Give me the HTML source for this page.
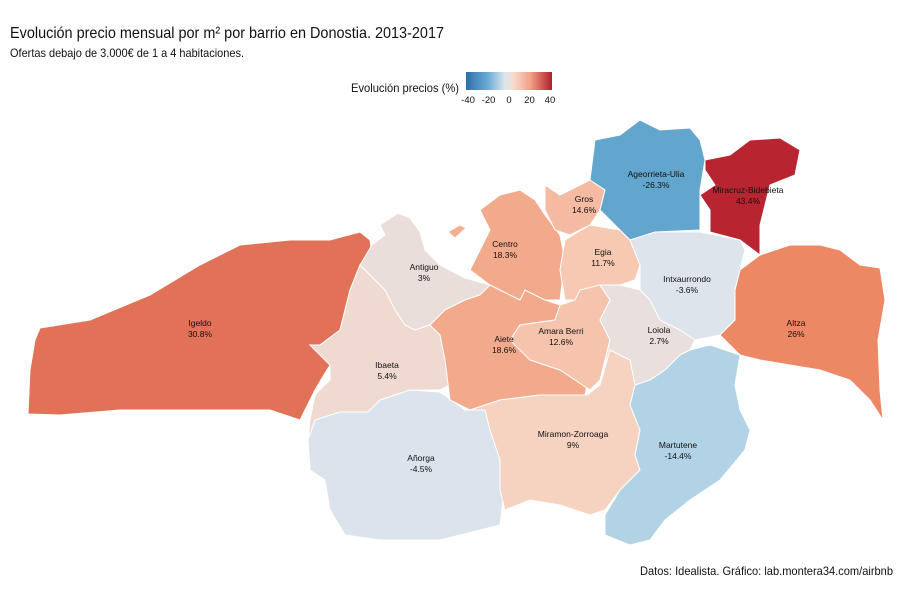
<!DOCTYPE html>
<html><head><meta charset="utf-8"><style>
body{margin:0;background:#fff;font-family:"Liberation Sans Narrow","Liberation Sans",sans-serif;}
svg text{font-family:"Liberation Sans Narrow","Liberation Sans",sans-serif;}
</style></head><body>
<svg id="map" width="900" height="600" viewBox="0 0 900 600">
<defs><linearGradient id="lg" x1="0" x2="1">
<stop offset="0" stop-color="#2c6fb0"/><stop offset="0.25" stop-color="#6aa9d1"/><stop offset="0.45" stop-color="#d9e6ef"/><stop offset="0.55" stop-color="#f7dccd"/><stop offset="0.75" stop-color="#f1a083"/><stop offset="1" stop-color="#b2202c"/></linearGradient></defs>
<text x="10" y="38" font-size="16" fill="#111" textLength="434" lengthAdjust="spacingAndGlyphs">Evolución precio mensual por m² por barrio en Donostia. 2013-2017</text>
<text x="10" y="57" font-size="12" fill="#111" textLength="234" lengthAdjust="spacingAndGlyphs">Ofertas debajo de 3.000€ de 1 a 4 habitaciones.</text>
<g>
<text x="351" y="92" font-size="12" fill="#111" textLength="108" lengthAdjust="spacingAndGlyphs">Evolución precios (%)</text>
<rect x="466" y="72" width="86" height="18" fill="url(#lg)"/>
<g id="legticks"></g>
</g>
<polygon points="448,232 460,225 466,228 455,238" fill="#f4ae91" stroke="#fff"/>
<g id="regions"></g>
<g id="labels"></g>
<text x="640" y="575" font-size="12" fill="#111" textLength="253" lengthAdjust="spacingAndGlyphs">Datos: Idealista. Gráfico: lab.montera34.com/airbnb</text>
</svg>
<script>
const barrios=["Igeldo","Antiguo","Ibaeta","Añorga","Aiete","Centro","Gros","Egia","Amara Berri","Loiola","Intxaurrondo","Altza","Miramon-Zorroaga","Martutene","Ageorrieta-Ulia","Miracruz-Bidebieta"];
const valores=[30.8,3,5.4,-4.5,18.6,18.3,14.6,11.7,12.6,2.7,-3.6,26,9,-14.4,-26.3,43.4];
const legendTicks=[-40,-20,0,20,40];
const shapes={
"Igeldo":"28,414 30,370 35,340 40,328 90,320 150,295 200,265 240,245 290,240 330,240 360,232 370,240 372,255 360,265 350,290 345,310 340,330 320,345 310,345 330,365 322,378 315,390 310,400 300,420 270,410 200,410 120,410 60,415",
"Antiguo":"372,245 385,235 380,225 398,213 410,218 420,232 425,250 440,265 465,278 490,285 480,295 465,300 445,310 430,325 415,330 405,325 395,310 385,290 370,275 360,265",
"Ibaeta":"360,265 370,275 385,290 395,310 405,325 415,330 430,325 440,335 445,360 450,385 440,390 410,390 380,400 368,412 340,412 315,420 308,440 310,420 315,395 330,380 330,365 310,345 320,345 340,330 345,310 350,290",
"Añorga":"308,440 315,420 340,412 368,412 380,400 410,390 440,392 465,410 485,410 490,430 500,460 505,485 500,525 480,530 440,540 380,540 345,535 330,510 325,480 310,470",
"Aiete":"430,325 445,310 465,300 480,295 490,285 500,290 520,300 525,290 545,300 560,305 555,320 520,325 510,340 530,360 560,370 587,385 585,395 560,395 540,395 500,400 470,410 450,400 445,360 440,335",
"Centro":"480,210 500,195 520,190 535,200 545,215 560,235 565,260 560,300 545,300 525,290 520,300 500,290 490,285 470,270 480,250 490,230",
"Gros":"545,185 560,195 580,185 590,180 605,190 600,210 590,225 570,235 555,230 545,210",
"Egia":"565,240 590,225 620,230 630,240 640,265 635,280 620,285 600,285 585,290 580,300 565,300 560,270",
"Amara Berri":"555,320 560,305 575,300 580,290 600,285 610,300 600,320 610,340 605,360 600,380 590,390 560,370 530,360 510,340 520,325",
"Loiola":"600,285 620,285 640,290 650,300 660,320 680,330 695,340 690,350 680,355 665,370 650,380 635,385 630,360 615,355 605,360 610,340 600,320 610,300",
"Intxaurrondo":"630,240 655,232 700,232 740,240 745,250 740,270 735,290 735,320 720,335 695,340 680,330 660,320 650,300 640,290 640,265",
"Altza":"740,270 760,255 790,245 820,245 840,250 860,265 880,268 885,300 878,340 880,390 883,420 870,400 850,380 820,370 790,365 760,360 740,355 720,335 735,320 735,290",
"Miramon-Zorroaga":"470,410 500,400 540,395 560,395 587,395 600,385 610,350 630,360 635,385 630,405 640,430 635,455 640,470 620,490 605,510 590,515 560,505 530,500 505,510 500,490 500,460 490,430 485,410",
"Martutene":"635,385 650,380 665,370 680,355 690,350 710,345 740,355 735,385 740,410 750,430 745,450 720,480 690,500 665,520 650,540 630,545 605,535 605,515 620,490 640,470 635,455 640,430 630,405",
"Ageorrieta-Ulia":"590,180 595,140 620,135 640,120 660,130 690,128 700,140 705,160 700,190 700,230 655,232 630,240 620,230 600,210 605,190",
"Miracruz-Bidebieta":"705,160 730,155 750,140 780,138 800,150 795,175 770,185 765,205 760,225 760,255 740,240 710,232 710,210 700,195 715,185 705,170"};
const labelPos={"Igeldo":[200,326],"Antiguo":[424,270],"Ibaeta":[387,368],"Añorga":[421,461],"Aiete":[504,342],"Centro":[505,247],"Gros":[584,202],"Egia":[603,255],"Amara Berri":[561,334],"Loiola":[659,333],"Intxaurrondo":[687,282],"Altza":[796,326],"Miramon-Zorroaga":[573,437],"Martutene":[678,448],"Ageorrieta-Ulia":[656,177],"Miracruz-Bidebieta":[748,193]};
const stops=[[-45,[33,102,172]],[-25,[103,169,207]],[-10,[209,229,240]],[0,[228,228,232]],[10,[248,208,188]],[25,[239,140,102]],[35,[214,96,77]],[45,[178,24,43]]];
function col(v){for(let i=0;i<stops.length-1;i++){const a=stops[i],b=stops[i+1];if(v<=b[0]){const t=Math.max(0,(v-a[0])/(b[0]-a[0]));return "rgb("+a[1].map((c,k)=>Math.round(c+(b[1][k]-c)*t)).join(",")+")";}}return "rgb(178,24,43)";}
const NS="http://www.w3.org/2000/svg";
const rg=document.getElementById("regions"),lb=document.getElementById("labels"),lt=document.getElementById("legticks");
barrios.forEach((b,i)=>{
 const p=document.createElementNS(NS,"polygon");
 p.setAttribute("points",shapes[b]);p.setAttribute("fill",col(valores[i]));p.setAttribute("stroke","#fff");p.setAttribute("stroke-width","1");
 
 
 rg.appendChild(p);
 const [x,y]=labelPos[b];
 const t=document.createElementNS(NS,"text");
 t.setAttribute("x",x);t.setAttribute("y",y);t.setAttribute("font-size","8.5");t.setAttribute("text-anchor","middle");t.setAttribute("fill","#111");
 
 
 const s1=document.createElementNS(NS,"tspan");s1.setAttribute("x",x);s1.textContent=b;
 const s2=document.createElementNS(NS,"tspan");s2.setAttribute("x",x);s2.setAttribute("dy","11");s2.textContent=valores[i]+"%";
 t.appendChild(s1);t.appendChild(s2);lb.appendChild(t);
});
const lx=v=>466+(v+42)/(84)*86;
legendTicks.forEach(v=>{
 const t=document.createElementNS(NS,"text");
 t.setAttribute("x",lx(v));t.setAttribute("y",103);t.setAttribute("font-size","9.5");t.setAttribute("text-anchor","middle");t.setAttribute("fill","#111");
 t.textContent=v;
 
 
 lt.appendChild(t);
});
</script>
</body></html>
